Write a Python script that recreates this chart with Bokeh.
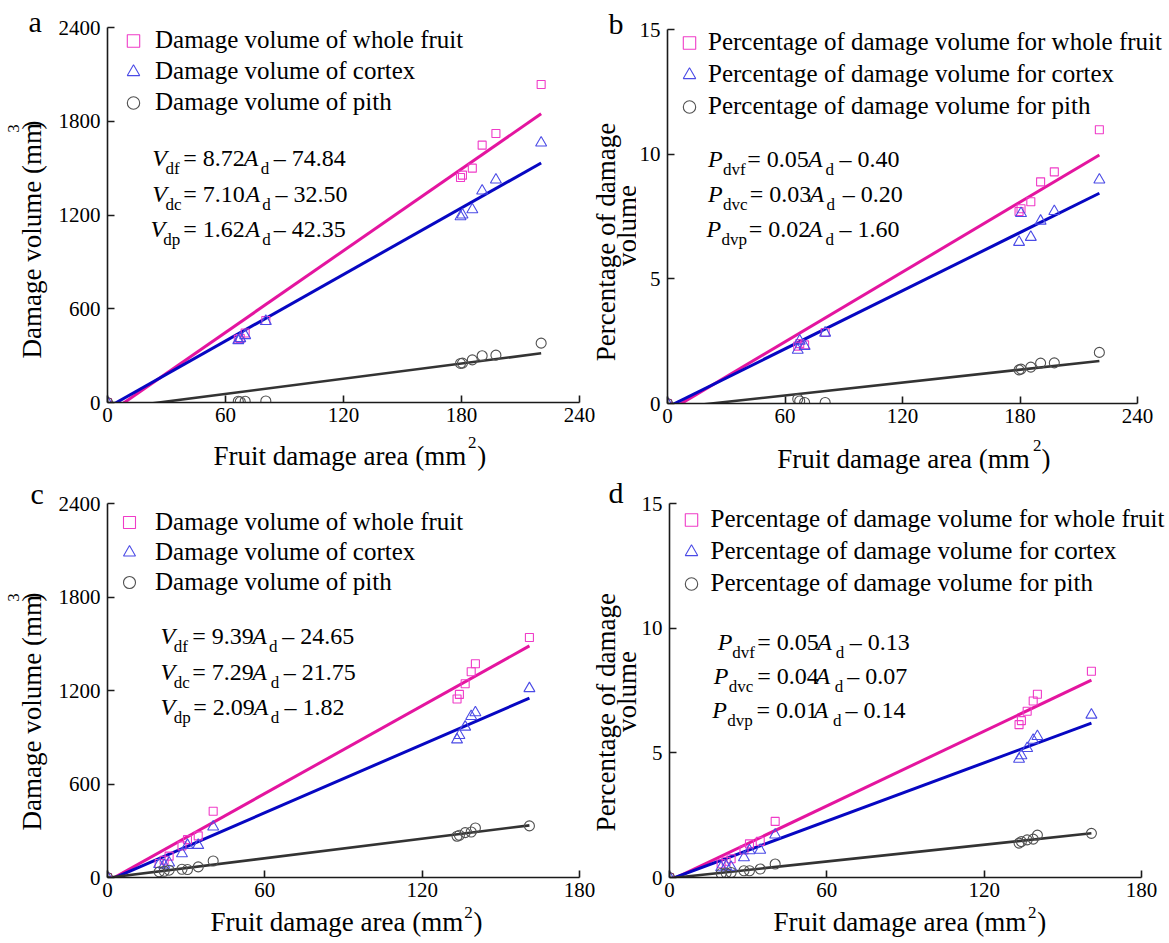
import math
from bokeh.plotting import figure
from bokeh.models import Range1d, FixedTicker, Label, Legend, LegendItem
from bokeh.layouts import row, column
from bokeh.embed import file_html
from bokeh.resources import INLINE

FONT = "Liberation Serif"

# ---------------- data ----------------
# panels a and b: fruit damage area (mm^2)
x_ab = [0, 66.5, 67.5, 70.0, 80.5, 179.5, 180.5, 185.5, 190.5, 197.5, 220.5]
a_whole = [0, 405, 410, 445, 525, 1440, 1455, 1500, 1647, 1722, 2035]
a_cortex = [0, 397, 410, 429, 520, 1190, 1201, 1235, 1355, 1425, 1662]
a_pith = [0, 8, 5, 8, 10, 250, 252, 273, 299, 303, 380]
b_whole = [0, 2.30, 2.40, 2.35, 2.85, 7.70, 7.81, 8.09, 8.89, 9.29, 10.98]
b_cortex = [0, 2.14, 2.51, 2.30, 2.83, 6.47, 7.63, 6.67, 7.32, 7.71, 8.97]
b_pith = [0, 0.18, 0.10, 0.04, 0.04, 1.35, 1.38, 1.46, 1.62, 1.63, 2.05]

# panels c and d
x_cd = [0, 19.7, 21.6, 23.5, 28.4, 30.5, 34.6, 40.3, 133.3, 134.2, 136.4, 138.7, 140.3, 160.9]
c_whole = [0, 90, 111, 137, 203, 243, 267, 425, 1145, 1175, 1243, 1320, 1372, 1540]
c_cortex = [0, 85, 80, 94, 154, 207, 207, 325, 884, 912, 966, 1034, 1058, 1213]
c_pith = [0, 36, 40, 47, 53, 51, 68, 106, 265, 271, 288, 292, 318, 331]
d_whole = [0, 0.55, 0.65, 0.75, 1.10, 1.35, 1.45, 2.25, 6.13, 6.29, 6.67, 7.08, 7.35, 8.27]
d_cortex = [0, 0.40, 0.45, 0.42, 0.80, 1.08, 1.10, 1.71, 4.75, 4.89, 5.18, 5.51, 5.66, 6.52]
d_pith = [0, 0.16, 0.18, 0.20, 0.27, 0.27, 0.34, 0.54, 1.38, 1.44, 1.51, 1.54, 1.70, 1.77]

# fitted lines as drawn (slope, intercept) for whole fruit, cortex, pith
a_fit = [(8.72, -74.84), (7.10, -32.50), (1.62, -42.35)]
b_fit = [(0.0467, -0.33), (0.0389, -0.144), (0.00862, -0.193)]
c_fit = [(9.39, -24.65), (7.29, -21.75), (2.09, -1.82)]
d_fit = [(0.05, -0.13), (0.039, -0.08), (0.0112, -0.03)]

vol_labels = ["Damage volume of whole fruit", "Damage volume of cortex", "Damage volume of pith"]
pct_labels = ["Percentage of damage volume for whole fruit",
              "Percentage of damage volume for cortex",
              "Percentage of damage volume for pith"]

a_eq = [("V", "df", "= 8.72", "A", "d", "\u2013 74.84"),
        ("V", "dc", "= 7.10", "A", "d", "\u2013 32.50"),
        ("V", "dp", "= 1.62", "A", "d", "\u2013 42.35")]
b_eq = [("P", "dvf", "= 0.05", "A", "d", "\u2013 0.40"),
        ("P", "dvc", "= 0.03", "A", "d", "\u2013 0.20"),
        ("P", "dvp", "= 0.02", "A", "d", "\u2013 1.60")]
c_eq = [("V", "df", "= 9.39", "A", "d", "\u2013 24.65"),
        ("V", "dc", "= 7.29", "A", "d", "\u2013 21.75"),
        ("V", "dp", "= 2.09", "A", "d", "\u2013 1.82")]
d_eq = [("P", "dvf", "= 0.05", "A", "d", "\u2013 0.13"),
        ("P", "dvc", "= 0.04", "A", "d", "\u2013 0.07"),
        ("P", "dvp", "= 0.01", "A", "d", "\u2013 0.14")]

x_ticks_ab = [0, 60, 120, 180, 240]
x_ticks_cd = [0, 60, 120, 180]
y_ticks_vol = [0, 600, 1200, 1800, 2400]
y_ticks_pct = [0, 5, 10, 15]

# ---------------- styling ----------------
LINE_COLORS = ["#E4159F", "#0707C2", "#333333"]
MK_COLORS = ["#F03CC8", "#4B4BE6", "#505050"]
MARKERS = ["square", "triangle", "circle"]
MK_SIZES = [8, 11, 10]
LINE_WIDTHS = [3, 3, 2.6]
MID = 0.34  # em distance between the alphabetic baseline and the middle of the text


def mid(baseline_y, size):
    return baseline_y - MID * size


class Geo:
    """Page geometry of one panel; the frame may extend right of the axis end."""
    def __init__(self, fig_left, fig_top, left, top, right, bottom, fw_axis, fh,
                 x_axis_max, y_max, extra=0):
        self.fig_left, self.fig_top = fig_left, fig_top
        self.left, self.top, self.right, self.bottom = left, top, right, bottom
        self.fw = fw_axis + extra
        self.fh = fh
        self.x_axis_max = x_axis_max
        self.xr = (0, x_axis_max * self.fw / fw_axis)
        self.yr = (0, y_max)
        self.fl = fig_left + left
        self.ft = fig_top + top
        self.fb = self.ft + fh

    def x(self, px):
        return self.xr[0] + (px - self.fl) / self.fw * (self.xr[1] - self.xr[0])

    def y(self, py):
        return self.yr[0] + (self.fb - py) / self.fh * (self.yr[1] - self.yr[0])


def add_text(p, x, y, text, size, style="normal", align="left", angle=0.0):
    p.add_layout(Label(x=x, y=y, text=text, text_font=FONT,
                       text_font_size=f"{size}px", text_font_style=style,
                       text_align=align, text_baseline="middle", angle=angle,
                       text_color="black"))


def text_fig(x0, y0, w, h, items):
    """A blank strip whose coordinates are page pixels (y downwards).
    Items: (text, x, y_middle, size, options)."""
    t = figure(width=w, height=h, x_range=Range1d(x0, x0 + w), y_range=Range1d(y0 + h, y0),
               min_border_left=0, min_border_right=0, min_border_top=0, min_border_bottom=0,
               x_axis_type=None, y_axis_type=None, frame_align=False,
               output_backend="svg", toolbar_location=None)
    t.outline_line_color = None
    t.background_fill_color = "white"
    t.border_fill_color = "white"
    for it in items:
        txt, px, py, size = it[:4]
        kw = it[4] if len(it) > 4 else {}
        add_text(t, px, py, txt, size, **kw)
    return t


def panel(g, xticks, yticks, xs, series, fits, labels, leg, eqs, eq_pos):
    p = figure(width=g.left + g.fw + g.right, height=g.top + g.fh + g.bottom,
               x_range=Range1d(*g.xr), y_range=Range1d(*g.yr),
               min_border_left=g.left, min_border_right=g.right,
               min_border_top=g.top, min_border_bottom=g.bottom, frame_align=False,
               output_backend="svg", toolbar_location=None)
    p.outline_line_color = None
    p.xgrid.visible = False
    p.ygrid.visible = False
    p.background_fill_color = "white"
    p.border_fill_color = "white"
    p.xaxis.ticker = FixedTicker(ticks=xticks)
    p.yaxis.ticker = FixedTicker(ticks=yticks)
    p.xaxis.bounds = (0, g.x_axis_max)
    for ax in (p.xaxis[0], p.yaxis[0]):
        ax.axis_line_width = 1.6
        ax.axis_line_color = "#1a1a1a"
        ax.major_tick_in = 7
        ax.major_tick_out = 0
        ax.major_tick_line_width = 1.6
        ax.major_tick_line_color = "#1a1a1a"
        ax.minor_tick_line_color = None
        ax.major_label_text_font = FONT
        ax.major_label_text_font_size = "21px"
        ax.major_label_text_color = "black"
    p.xaxis.major_label_standoff = 5
    p.yaxis.major_label_standoff = 7

    x_end = max(xs)
    renderers = []
    for i, (m, c) in enumerate(fits):
        p.line([0, x_end], [c, m * x_end + c], line_color=LINE_COLORS[i], line_width=LINE_WIDTHS[i])
    for i, ys in enumerate(series):
        r = p.scatter(xs, ys, marker=MARKERS[i], size=MK_SIZES[i], fill_color=None,
                      line_color=MK_COLORS[i], line_width=1.1)
        renderers.append(r)

    gw, gh, spacing, standoff, left_px, top_px = leg
    height = 3 * gh + 2 * spacing
    legend = Legend(items=[LegendItem(label=labels[i], renderers=[renderers[i]]) for i in range(3)],
                    location=(left_px - g.fl, g.fb - (top_px + height)),
                    glyph_width=gw, glyph_height=gh, label_height=gh, label_width=10,
                    spacing=spacing, label_standoff=standoff, padding=0, margin=0,
                    border_line_color=None, background_fill_alpha=0,
                    label_text_font=FONT, label_text_font_size="25px", label_text_color="black")
    p.add_layout(legend)

    for (sym, sub, eqn, A, d, tail), (xpos, yb) in zip(eqs, eq_pos):
        xv, xs_, xe, xa, xd, xm = xpos
        ym = g.y(mid(yb, 24))
        ys_ = g.y(mid(yb + 8, 17))
        add_text(p, g.x(xv), ym, sym, 24, style="italic")
        add_text(p, g.x(xs_), ys_, sub, 17)
        add_text(p, g.x(xe), ym, eqn, 24)
        add_text(p, g.x(xa), ym, A, 24, style="italic")
        add_text(p, g.x(xd - 1.5), ys_, d, 17)
        add_text(p, g.x(xm), ym, tail, 24)
    return p


ROT = dict(angle=math.pi / 2)
ROTC = dict(angle=math.pi / 2, align="center")
CEN = dict(align="center")

# ---------------- panel a ----------------
ga = Geo(52, 0, 55, 27, 16, 30, 472, 375, 240, 2400)
pa = panel(ga, x_ticks_ab, y_ticks_vol, x_ab, [a_whole, a_cortex, a_pith], a_fit, vol_labels,
           (36, 31, 0, 4, 115, 24.5), a_eq,
           [((151.7, 165, 182.7, 243.3, 261.7, 273.3), 165.7),
            ((151.7, 165, 182.7, 245, 263.3, 275), 201.7),
            ((150, 162.7, 182.7, 245, 263.3, 273.3), 236.7)])
ta_left = text_fig(0, 0, 52, 432, [
    ("a", 28, mid(31.5, 30), 30),
    ("Damage volume (mm", 31, 358, 27, ROT),
    (")", 31, 129, 27, ROT),
    ("3", 13, 128, 17, ROTC)])
ta_bot = text_fig(0, 432, 595, 46, [
    ("Fruit damage area (mm", 213, mid(465, 27), 27),
    ("2", 471.7, 441.7, 17, CEN),
    (")", 476.7, mid(465, 27), 27)])

# ---------------- panel b ----------------
gb = Geo(636, 0, 30, 29, 2, 30, 471, 374, 240, 15, extra=26)
pb = panel(gb, x_ticks_ab, y_ticks_pct, x_ab, [b_whole, b_cortex, b_pith], b_fit, pct_labels,
           (34, 31, 1, 2, 671, 26.5), b_eq,
           [((706.7, 721.7, 746, 806.7, 825.7, 838.3), 166.7),
            ((706.7, 721.7, 748.3, 808.3, 826.7, 841.7), 201.7),
            ((705, 720, 747.3, 806.7, 825.7, 838.3), 236.7)])
tb_left = text_fig(595, 0, 41, 433, [
    ("b", 608, mid(33, 30), 30),
    ("Percentage of damage", 605, 241.5, 27, ROTC),
    ("volume", 626, 225, 27, ROTC)])
tb_bot = text_fig(595, 433, 570, 45, [
    ("Fruit damage area (mm", 776.7, mid(468, 27), 27),
    ("2", 1036.7, 445, 17, CEN),
    (")", 1041, mid(468, 27), 27)])

# ---------------- panel c ----------------
gc = Geo(52, 478, 55, 25, 16, 26, 472, 374, 180, 2400)
pc = panel(gc, x_ticks_cd, y_ticks_vol, x_cd, [c_whole, c_cortex, c_pith], c_fit, vol_labels,
           (36, 30, 0, 8, 111, 507), c_eq,
           [((160, 173.3, 191.7, 251.7, 270, 281.7), 644),
            ((160, 173.3, 191.7, 251.7, 271.7, 283.3), 679.3),
            ((160, 173.3, 192.7, 253.3, 271.7, 284), 715)])
tc_left = text_fig(0, 478, 52, 425, [
    ("c", 30, mid(503, 30), 30),
    ("Damage volume (mm", 31, 830, 27, ROT),
    (")", 31, 601, 27, ROT),
    ("3", 13.3, 597, 17, ROTC)])
tc_bot = text_fig(0, 903, 595, 37, [
    ("Fruit damage area (mm", 210, mid(931, 27), 27),
    ("2", 468, 912, 17, CEN),
    (")", 473, mid(931, 27), 27)])

# ---------------- panel d ----------------
gd = Geo(637, 478, 32, 25, 0, 26, 472, 374, 180, 15, extra=24)
pd_ = panel(gd, x_ticks_cd, y_ticks_pct, x_cd, [d_whole, d_cortex, d_pith], d_fit, pct_labels,
            (32, 31, 1, 4, 674.5, 503.5), d_eq,
            [((717.3, 731.7, 756.7, 816.7, 836.7, 849.3), 650),
             ((713.3, 728.3, 756.7, 815, 835.7, 846.7), 684),
             ((711.7, 726.7, 756, 813.3, 834, 845), 717.3)])
td_left = text_fig(595, 478, 42, 425, [
    ("d", 608, mid(502, 30), 30),
    ("Percentage of damage", 605, 711.7, 27, ROTC),
    ("volume", 626, 691, 27, ROTC)])
td_bot = text_fig(595, 903, 570, 37, [
    ("Fruit damage area (mm", 773, mid(931, 27), 27),
    ("2", 1031.7, 912, 17, CEN),
    (")", 1036.7, mid(931, 27), 27)])

block_a = column(row(ta_left, pa), ta_bot)
block_b = column(row(tb_left, pb), tb_bot)
block_c = column(row(tc_left, pc), tc_bot)
block_d = column(row(td_left, pd_), td_bot)
layout = column(row(block_a, block_b), row(block_c, block_d))
open("out.html", "w").write(file_html(layout, INLINE))
